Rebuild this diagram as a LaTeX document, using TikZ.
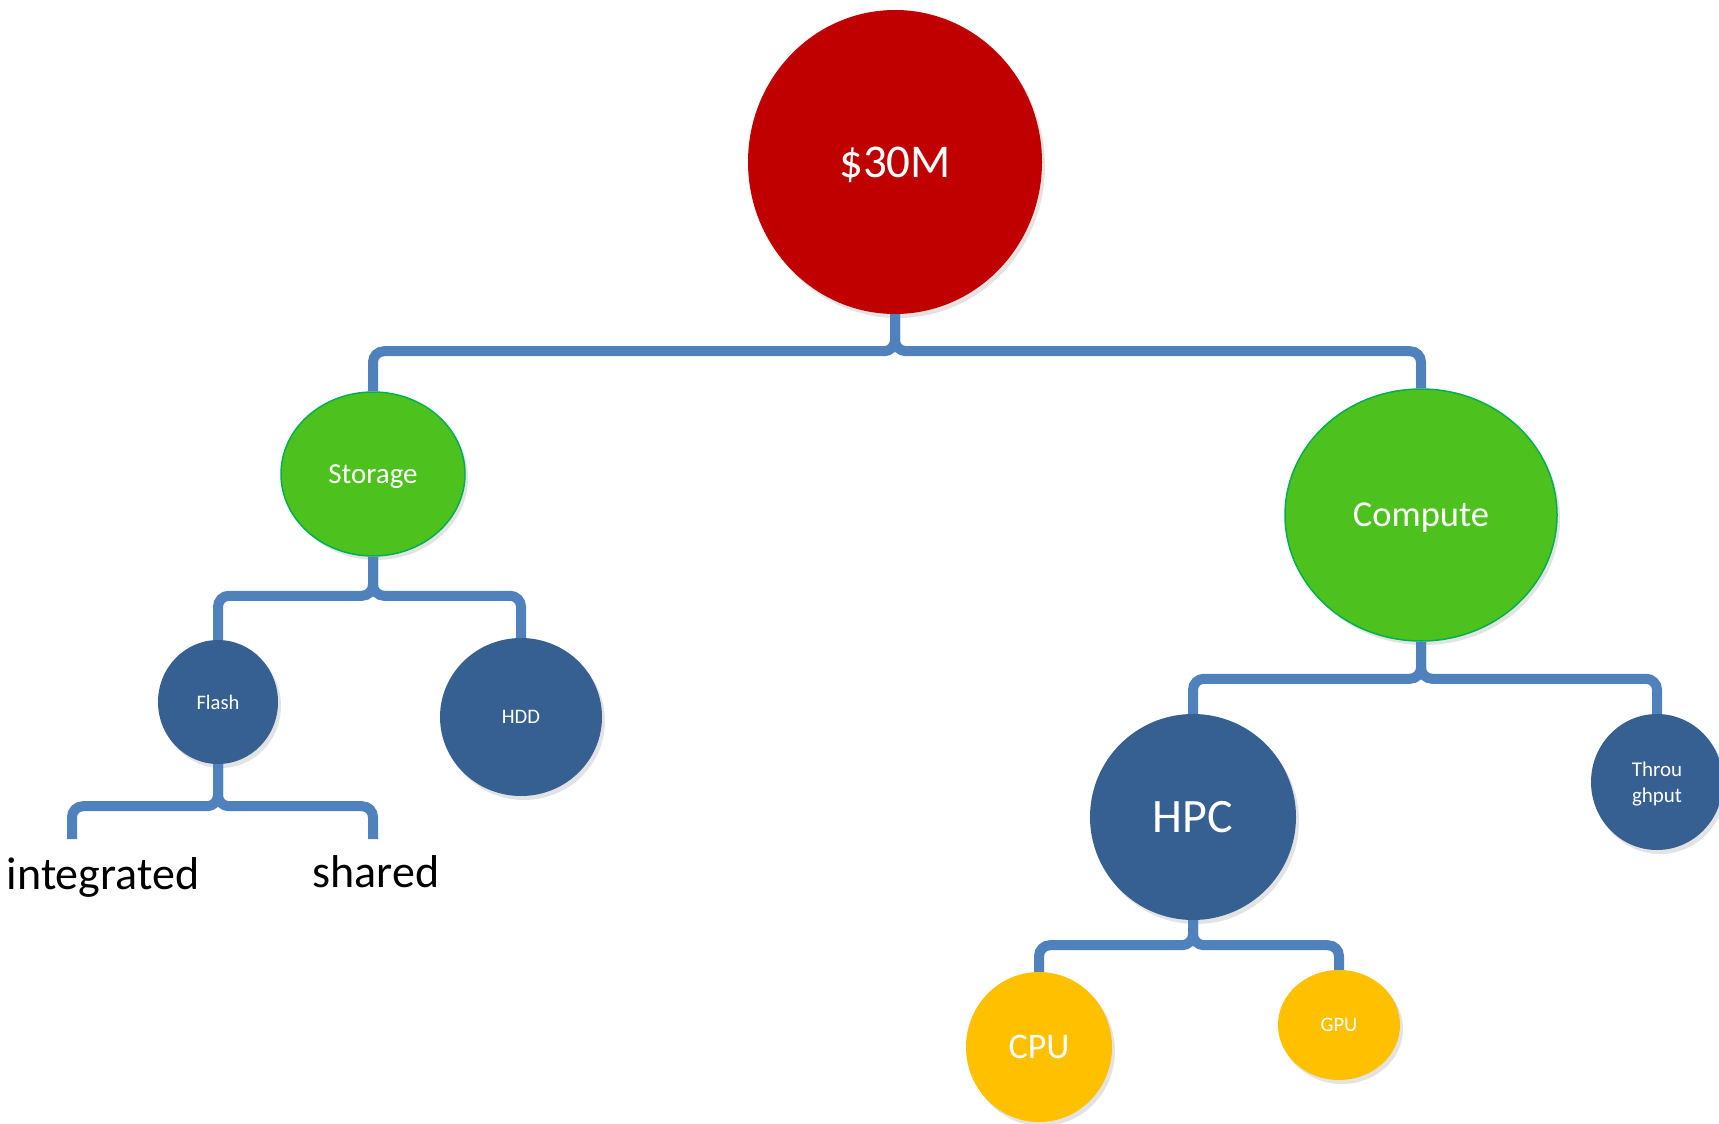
\documentclass[tikz,border=0pt]{standalone}
\usepackage{fontspec}
\setmainfont{Carlito}
\usetikzlibrary{shapes.geometric,shadows}
\definecolor{rootred}{HTML}{C00000}
\definecolor{leafgreen}{HTML}{4DC21F}
\definecolor{edgegreen}{HTML}{00B050}
\definecolor{nodeblue}{HTML}{376092}
\definecolor{nodeyellow}{HTML}{FFC000}
\definecolor{bracecol}{HTML}{4F81BD}
\begin{document}
\begin{tikzpicture}[x=1pt,y=-1pt,
  blob/.style={ellipse, inner sep=0pt, text=white, align=center, text depth=0pt,
    drop shadow={shadow xshift=3pt,shadow yshift=-4pt,opacity=0.22}},
  redblob/.style={blob, fill=rootred},
  greenblob/.style={blob, fill=leafgreen, draw=edgegreen, line width=1.5pt},
  blueblob/.style={blob, fill=nodeblue},
  yellowblob/.style={blob, fill=nodeyellow},
  leaflabel/.style={inner sep=0pt, text=black, font=\fontsize{46}{50}\selectfont},
  brace/.style={draw=bracecol, line width=10pt, rounded corners=11pt,
    preaction={draw=black, opacity=0.12, transform canvas={shift={(2pt,-2.5pt)}}}}
]
\clip (0,0) rectangle (1719,1124);
\fill[white] (0,0) rectangle (1719,1124);

\node[redblob, minimum width=294pt, minimum height=304pt, font=\fontsize{47}{50}\selectfont] (root) at (895,162) {\$30M};
\node[greenblob, minimum width=184pt, minimum height=164pt, font=\fontsize{29}{32}\selectfont] (storage) at (373,474) {Storage};
\node[greenblob, minimum width=272pt, minimum height=252pt, font=\fontsize{36.5}{40}\selectfont] (compute) at (1421,515) {Compute};
\node[blueblob, minimum width=120pt, minimum height=124pt, font=\fontsize{20.6}{24}\selectfont] (flash) at (218,702) {Flash};
\node[blueblob, minimum width=162pt, minimum height=158pt, font=\fontsize{20.6}{24}\selectfont] (hdd) at (521,717) {HDD};
\node[blueblob, minimum width=206pt, minimum height=206pt, font=\fontsize{48}{52}\selectfont] (hpc) at (1193,817) {HPC};
\node[blueblob, minimum width=132pt, minimum height=136pt, font=\fontsize{21}{26}\selectfont] (thru) at (1657,782) {Throu\\ghput};
\node[yellowblob, minimum width=146pt, minimum height=150pt, font=\fontsize{36}{40}\selectfont] (cpu) at (1039,1047) {CPU};
\node[yellowblob, minimum width=122pt, minimum height=110pt, font=\fontsize{20.6}{24}\selectfont] (gpu) at (1339,1025) {GPU};

\node[leaflabel] (integrated) at (103,877) {integrated};
\node[leaflabel] (shared) at (376,872) {shared};
\coordinate (flashL) at (72,839);
\coordinate (flashR) at (373,839);

\draw[brace] (root.south) -- ++(0,37) -| (storage.north);
\draw[brace] (root.south) -- ++(0,37) -| (compute.north);
\draw[brace] (storage.south) -- ++(0,39) -| (flash.north);
\draw[brace] (storage.south) -- ++(0,39) -| (hdd.north);
\draw[brace] (compute.south) -- ++(0,37) -| (hpc.north);
\draw[brace] (compute.south) -- ++(0,37) -| (thru.north);
\draw[brace] (hpc.south) -- ++(0,25) -| (cpu.north);
\draw[brace] (hpc.south) -- ++(0,25) -| (gpu.north);
\draw[brace] (flash.south) -- ++(0,42) -| (flashL);
\draw[brace] (flash.south) -- ++(0,42) -| (flashR);
\end{tikzpicture}
\end{document}
